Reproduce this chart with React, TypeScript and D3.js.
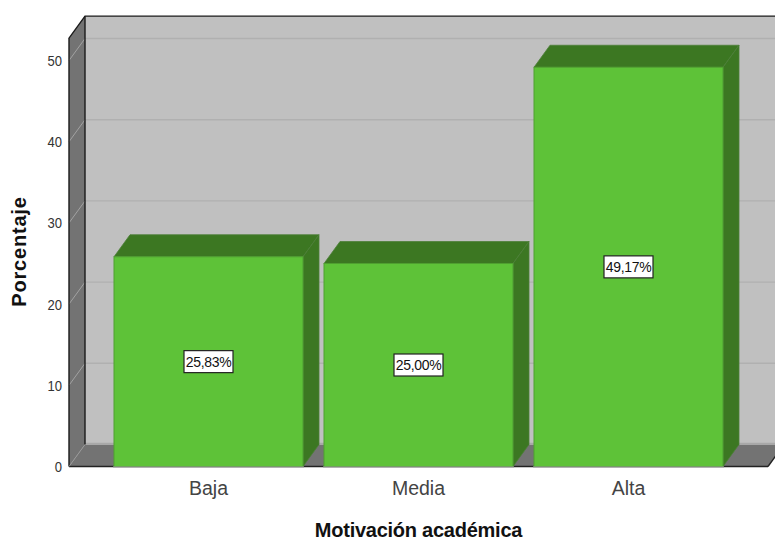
import React from 'react';
import * as d3 from 'd3';

const categories = ['Baja', 'Media', 'Alta'];
const values = [25.83, 25.0, 49.17];
const valueLabels = ['25,83%', '25,00%', '49,17%'];
const yTicks = [0, 10, 20, 30, 40, 50];
const yTop = 52.75;
const xTitle = 'Motivación académica';
const yTitle = 'Porcentaje';

const W = 775, H = 539;
const left = 69, right = 768, baseY = 466.5;
const dx = 16, dy = -22;
const y = d3.scaleLinear().domain([0, 50]).range([baseY, 60.5]);
const x = d3.scaleBand<string>().domain(categories).range([114, 723]).paddingInner(0.1).paddingOuter(0);
const font = '"Liberation Sans", Arial, sans-serif';
const poly = (p: [number, number][]) => d3.line()(p) + 'Z';

export default function App() {
  const topY = y(yTop);
  return (
    <svg width={W} height={H} viewBox={`0 0 ${W} ${H}`} style={{ position: 'absolute', left: 0, top: 0, background: '#fff' }}>
      {/* back wall */}
      <rect x={left + dx} y={topY + dy} width={right - left} height={baseY - topY} fill="#c0c0c0" />
      {yTicks.slice(1).map(t => (
        <line key={t} x1={left + dx} x2={right + dx} y1={y(t) + dy} y2={y(t) + dy} stroke="#b0b0b0" strokeWidth={1.4} />
      ))}
      {/* side wall */}
      <path d={poly([[left, topY], [left + dx, topY + dy], [left + dx, baseY + dy], [left, baseY]])} fill="#737373" />
      {yTicks.slice(1).map(t => (
        <line key={t} x1={left} x2={left + dx} y1={y(t)} y2={y(t) + dy} stroke="#a2a2a2" strokeWidth={1} />
      ))}
      {/* floor */}
      <path d={poly([[left, baseY], [left + dx, baseY + dy], [right + dx, baseY + dy], [right, baseY]])} fill="#737373" />
      <line x1={left + dx} x2={right + dx} y1={baseY + dy - 1} y2={baseY + dy - 1} stroke="#a8a8a8" strokeWidth={1.5} />
      {/* frame */}
      <path d={`M${left},${baseY}L${left},${topY}L${left + dx},${topY + dy}L${right + dx},${topY + dy}`} fill="none" stroke="#1a1a1a" strokeWidth={1.4} />
      <line x1={left + dx} x2={left + dx} y1={topY + dy} y2={baseY + dy} stroke="#1a1a1a" strokeWidth={1.4} />
      <line x1={left} x2={right} y1={baseY} y2={baseY} stroke="#222" strokeWidth={1.5} />
      <line x1={right} x2={right + dx} y1={baseY} y2={baseY + dy} stroke="#222" strokeWidth={1.4} />
      <line x1={left} x2={left + dx} y1={baseY} y2={baseY + dy} stroke="#999" strokeWidth={0.8} />

      {/* bars */}
      {categories.map((c, i) => {
        const x0 = x(c)!, x1 = x0 + x.bandwidth(), yv = y(values[i]);
        return (
          <g key={c}>
            <path d={poly([[x0, yv], [x0 + dx, yv + dy], [x1 + dx, yv + dy], [x1, yv]])} fill="#3c7722" stroke="#4d7f38" strokeWidth={0.8} />
            <path d={poly([[x1, yv], [x1 + dx, yv + dy], [x1 + dx, baseY + dy], [x1, baseY]])} fill="#3c7722" stroke="#4d7f38" strokeWidth={0.8} />
            <rect x={x0} y={yv} width={x1 - x0} height={baseY - yv} fill="#5ec238" stroke="#4f9f30" strokeWidth={1} />
            <line x1={x0 - 1} x2={x1 + 1} y1={baseY + 0.5} y2={baseY + 0.5} stroke="#9a9a9a" strokeWidth={1.2} />
          </g>
        );
      })}

      {/* value labels */}
      {categories.map((c, i) => {
        const cx = x(c)! + x.bandwidth() / 2, cy = y(values[i] / 2);
        return (
          <g key={c}>
            <rect x={cx - 24.5} y={cy - 11} width={49} height={22} fill="#fff" stroke="#222" strokeWidth={1.2} />
            <text x={cx} y={cy + 5} textAnchor="middle" fontFamily={font} fontSize={14} letterSpacing={-0.3} fill="#111">{valueLabels[i]}</text>
          </g>
        );
      })}

      {/* y tick labels */}
      {yTicks.map(t => (
        <text key={t} transform={`translate(62,${y(t) + 5.5}) scale(0.87,1)`} textAnchor="end" fontFamily={font} fontSize={15} fill="#333">{t}</text>
      ))}
      {/* category labels */}
      {categories.map(c => (
        <text key={c} x={x(c)! + x.bandwidth() / 2} y={495} textAnchor="middle" fontFamily={font} fontSize={19.5} fill="#444">{c}</text>
      ))}
      {/* titles */}
      <text x={418.5} y={537} textAnchor="middle" fontFamily={font} fontSize={20} fontWeight={700} letterSpacing={-0.25} fill="#111">{xTitle}</text>
      <text transform="translate(26,251.5) rotate(-90)" textAnchor="middle" fontFamily={font} fontSize={20} fontWeight={700} letterSpacing={0.8} fill="#111">{yTitle}</text>
    </svg>
  );
}
